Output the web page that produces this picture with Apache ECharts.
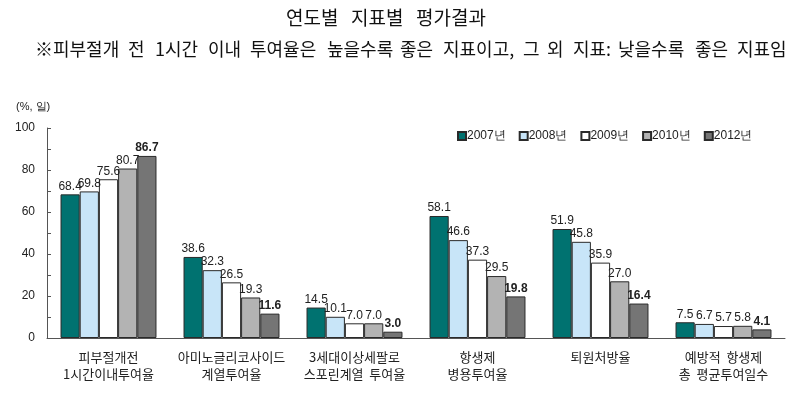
<!DOCTYPE html>
<html>
<head>
<meta charset="utf-8">
<script src="https://cdn.jsdelivr.net/npm/echarts@6/dist/echarts.min.js"></script>
<style>
  html, body { margin: 0; padding: 0; background: #fff; }
  #chart { width: 789px; height: 396px; }
</style>
</head>
<body>
<div id="chart"></div>
<script>
// 지표 (카테고리)
const categories = [
  '피부절개전\n1시간이내투여율',
  '아미노글리코사이드\n계열투여율',
  '3세대이상세팔로\n스포린계열  투여율',
  '항생제\n병용투여율',
  '퇴원처방율',
  '예방적  항생제\n총  평균투여일수'
]
const years = ['2007년', '2008년', '2009년', '2010년', '2012년']
const v2007 = [68.4, 38.6, 14.5, 58.1, 51.9, 7.5]
const v2008 = [69.8, 32.3, 10.1, 46.6, 45.8, 6.7]
const v2009 = [75.6, 26.5, 7.0, 37.3, 35.9, 5.7]
const v2010 = [80.7, 19.3, 7.0, 29.5, 27.0, 5.8]
const v2012 = [86.7, 11.6, 3.0, 19.8, 16.4, 4.1]

// 제목 (단어 단위, 원본의 넓은 자간을 흉내냄)
const titleWords = ['연도별', '지표별', '평가결과']
const noteWords = ['※피부절개', '전', '1시간', '이내', '투여율은', '높을수록', '좋은',
  '지표이고,', '그', '외', '지표:', '낮을수록', '좋은', '지표임']

const colors = ['#007270', '#c8e5f8', '#ffffff', '#b3b3b3', '#757575']
const seriesValues = [v2007, v2008, v2009, v2010, v2012]

const chart = echarts.init(document.getElementById('chart'))

const titleX = [286, 351, 416]
const noteX = [35, 128, 155, 208, 250, 327, 400, 443, 523, 547, 573, 618, 695, 737]

function wordText(words, xs, y, size) {
  return words.map((w, i) => ({
    type: 'text',
    x: xs[i],
    y: y,
    style: {
      text: w,
      font: size + 'px "Noto Sans CJK KR"',
      fill: '#111',
      verticalAlign: 'middle',
      textVerticalAlign: 'middle'
    }
  }))
}

const series = seriesValues.map((vals, i) => ({
  name: years[i],
  type: 'bar',
  data: vals,
  barGap: '0%',
  barCategoryGap: '22%',
  itemStyle: {
    color: colors[i],
    borderColor: '#2a2a2a',
    borderWidth: 1
  },
  label: {
    show: true,
    position: 'top',
    distance: 2,
    formatter: (p) => p.value.toFixed(1),
    fontFamily: 'Liberation Sans',
    fontSize: 12,
    color: '#222',
    fontWeight: i === 4 ? 'bold' : 'normal'
  }
}))

chart.setOption({
  animation: false,
  textStyle: { fontFamily: 'Liberation Sans' },
  title: {
    text: '(%, 일)',
    left: 16,
    top: 101,
    padding: 0,
    textStyle: { fontFamily: 'Liberation Sans', fontSize: 11, fontWeight: 'normal', color: '#222' }
  },
  graphic: [
    ...wordText(titleWords, titleX, 18, 19),
    ...wordText(noteWords, noteX, 49, 18)
  ],
  legend: {
    data: years,
    left: 457,
    top: 130,
    padding: 0,
    width: 330,
    itemWidth: 8,
    itemHeight: 8,
    itemGap: 13,
    icon: 'rect',
    textStyle: { fontFamily: 'Liberation Sans', fontSize: 12, color: '#222', padding: [0, 0, 0, -4] }
  },
  grid: { left: 47, right: 4, top: 128, bottom: 58 },
  xAxis: {
    type: 'category',
    data: categories,
    axisLine: { lineStyle: { color: '#555', width: 1 } },
    axisTick: { show: false },
    axisLabel: {
      interval: 0,
      margin: 11,
      lineHeight: 17,
      fontFamily: 'Noto Sans CJK KR',
      fontSize: 13,
      color: '#222'
    }
  },
  yAxis: {
    type: 'value',
    min: 0,
    max: 100,
    interval: 20,
    axisLine: { show: true, lineStyle: { color: '#555', width: 1 } },
    axisTick: { show: true, inside: true, length: 4, lineStyle: { color: '#555' } },
    minorTick: { show: true, splitNumber: 2, length: 4, lineStyle: { color: '#555' } },
    splitLine: { show: false },
    axisLabel: { fontFamily: 'Liberation Sans', fontSize: 12, color: '#222', margin: 12 }
  },
  series
})
</script>
</body>
</html>
